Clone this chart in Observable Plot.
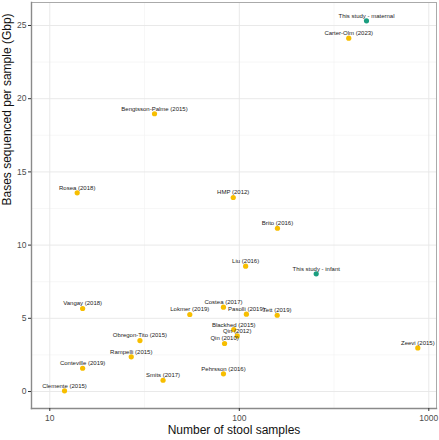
<!DOCTYPE html>
<html>
<head>
<meta charset="utf-8">
<script src="https://cdn.jsdelivr.net/npm/d3@7"></script>
<script src="https://cdn.jsdelivr.net/npm/@observablehq/plot@0.6"></script>
<style>
  html, body { margin: 0; padding: 0; background: white; }
</style>
</head>
<body>
<div id="chart"></div>
<script>
const studies = [
  "This study - maternal", "Carter-Olm (2023)", "Bengtsson-Palme (2015)", "Rosea (2018)",
  "HMP (2012)", "Brito (2016)", "Liu (2016)", "This study - infant",
  "Costea (2017)", "Lokmer (2019)", "Pasolli (2019)", "Tett (2019)",
  "Blackhed (2015)", "Qin (2012)", "Qin (2010)", "Pehrsson (2016)",
  "Smits (2017)", "Zeevi (2015)", "Vangay (2018)", "Obregon-Tito (2015)",
  "Rampelli (2015)", "Conteville (2019)", "Clemente (2015)"
];
const samples = [
  469, 378, 35.7, 13.95,
  92.9, 159, 108, 254.6,
  82.5, 54.8, 109, 158.5,
  93.5, 97.5, 83.6, 82.5,
  39.6, 875, 14.9, 29.9,
  26.9, 14.9, 11.96
];
const gbp = [
  25.32, 24.13, 18.97, 13.57,
  13.25, 11.15, 8.56, 8.04,
  5.76, 5.26, 5.28, 5.21,
  4.23, 3.80, 3.28, 1.21,
  0.77, 2.98, 5.67, 3.48,
  2.37, 1.59, 0.05
];
const groups = [
  "this", "other", "other", "other",
  "other", "other", "other", "this",
  "other", "other", "other", "other",
  "other", "other", "other", "other",
  "other", "other", "other", "other",
  "other", "other", "other"
];
const xTicks = [10, 100, 1000];
const xMinor = [31.62, 316.2];
const yTicks = [0, 5, 10, 15, 20, 25];
const yMinor = [2.5, 7.5, 12.5, 17.5, 22.5];
const xTitle = "Number of stool samples";
const yTitle = "Bases sequenced per sample (Gbp)";

const data = studies.map((s, i) => ({study: s, samples: samples[i], gbp: gbp[i], group: groups[i]}));

const chart = Plot.plot({
  width: 439,
  height: 440,
  marginLeft: 31,
  marginRight: 3,
  marginTop: 2,
  marginBottom: 32,
  style: {fontFamily: "'Liberation Sans', Arial, sans-serif", background: "white"},
  x: {type: "log", domain: [8.007, 1098]},
  y: {domain: [-1.16, 26.57]},
  color: {domain: ["other", "this"], range: ["#F7BE00", "#1B9E80"]},
  marks: [
    Plot.ruleX(xMinor, {stroke: "#f1f1f1", strokeWidth: 0.6}),
    Plot.ruleY(yMinor, {stroke: "#f1f1f1", strokeWidth: 0.6}),
    Plot.ruleX(xTicks, {stroke: "#e6e6e6", strokeWidth: 0.9}),
    Plot.ruleY(yTicks, {stroke: "#e6e6e6", strokeWidth: 0.9}),
    Plot.frame({stroke: "#aaaaaa", strokeWidth: 1}),
    Plot.frame({anchor: "left", stroke: "#8a8a8a", strokeWidth: 1.4}),
    Plot.frame({anchor: "bottom", stroke: "#8a8a8a", strokeWidth: 1.4}),
    Plot.axisX({ticks: xTicks, tickFormat: d => String(d), tickSize: 3, tickPadding: 3, fontSize: 8.5, color: "#4d4d4d", stroke: "#333", label: null}),
    Plot.axisY({ticks: yTicks, tickSize: 3, tickPadding: 2, fontSize: 8.5, color: "#4d4d4d", stroke: "#333", label: null}),
    Plot.dot(data, {x: "samples", y: "gbp", fill: "group", r: 2.6}),
    Plot.text(data, {x: "samples", y: "gbp", text: "study", dy: -5, fontSize: 6, fill: "#222", lineAnchor: "middle"}),
    Plot.text([xTitle], {frameAnchor: "bottom", dy: 22, fontSize: 12, fill: "#111", lineAnchor: "middle"}),
    Plot.text([yTitle], {frameAnchor: "left", dx: -24, rotate: -90, fontSize: 12, fill: "#111", lineAnchor: "middle"})
  ]
});
document.getElementById("chart").appendChild(chart);
</script>
</body>
</html>
